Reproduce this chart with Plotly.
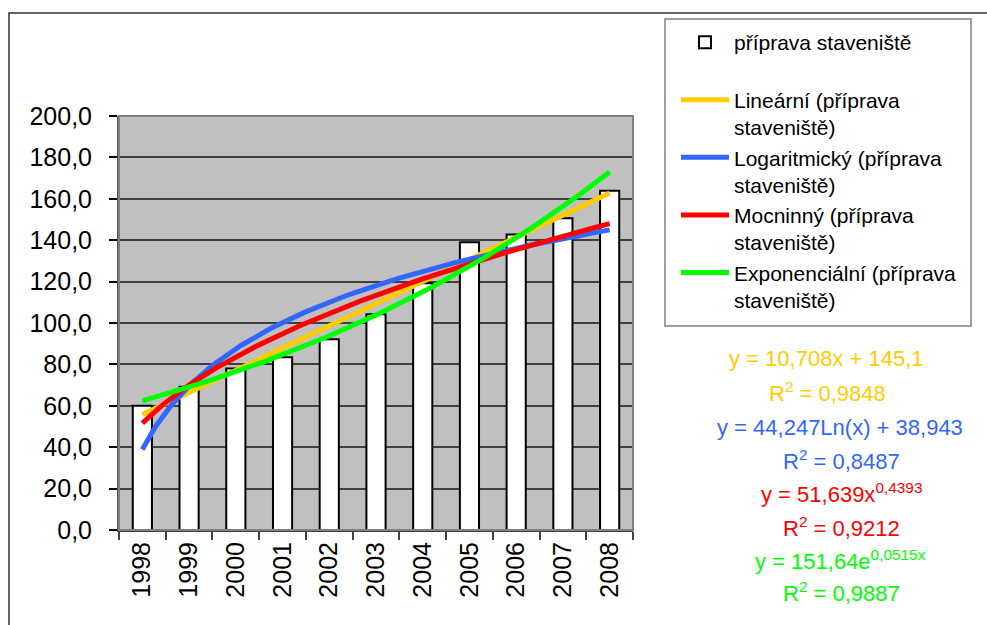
import numpy as np
import plotly.graph_objects as go

# Data: site-preparation index by year
years = ["1998", "1999", "2000", "2001", "2002", "2003", "2004", "2005", "2006", "2007", "2008"]
values = [60.0, 69.2, 78.0, 83.4, 92.1, 104.2, 119.2, 139.0, 142.8, 150.6, 163.9]

series_name = "příprava staveniště"
trend_names = [
    "Lineární (příprava<br>staveniště)",
    "Logaritmický (příprava<br>staveniště)",
    "Mocninný (příprava<br>staveniště)",
    "Exponenciální (příprava<br>staveniště)",
]
trend_colors = ["#FFCC00", "#3366FF", "#FF0000", "#00FF00"]

# Equation labels shown beside the chart
eq_lines = [
    ("y = 10,708x + 145,1", "#FFCC00"),
    ("R<sup>2</sup> = 0,9848", "#FFCC00"),
    ("y = 44,247Ln(x) + 38,943", "#3366FF"),
    ("R<sup>2</sup> = 0,8487", "#3366FF"),
    ("y = 51,639x<sup>0,4393</sup>", "#FF0000"),
    ("R<sup>2</sup> = 0,9212", "#FF0000"),
    ("y = 151,64e<sup>0,0515x</sup>", "#00FF00"),
    ("R<sup>2</sup> = 0,9887", "#00FF00"),
]

FONT = "Liberation Sans, Arial, sans-serif"
W, H = 987, 625
L, R, T, B = 119, 354, 116, 95
PW, PH = W - L - R, H - T - B

x = np.arange(1, len(years) + 1)
y = np.array(values)

# Least-squares trend lines, evaluated on a fine grid between the first and last category
xs = np.linspace(1, len(years), 200)
a_lin, b_lin = np.polyfit(x, y, 1)
a_log, b_log = np.polyfit(np.log(x), y, 1)
a_pow, b_pow = np.polyfit(np.log(x), np.log(y), 1)
a_exp, b_exp = np.polyfit(x, np.log(y), 1)
trend_vals = [
    a_lin * xs + b_lin,
    a_log * np.log(xs) + b_log,
    np.exp(b_pow) * xs ** a_pow,
    np.exp(b_exp) * np.exp(a_exp * xs),
]

fig = go.Figure()
fig.add_trace(go.Bar(
    x=x, y=y, name=series_name + "<br> ",
    marker=dict(color="white", line=dict(color="black", width=2)),
))
for nm, col, tv in zip(trend_names, trend_colors, trend_vals):
    fig.add_trace(go.Scatter(
        x=xs, y=tv, mode="lines", name=nm,
        line=dict(color=col, width=5),
    ))

def px_x(px):
    return (px - L) / PW

def px_y(py):
    return (H - B - py) / PH

eq_pos = [(826, 358), (827, 392), (840, 427), (841, 460),
          (841, 493), (841, 527), (840, 560), (841, 592)]
annotations = []
for (txt, col), (ex, ey) in zip(eq_lines, eq_pos):
    annotations.append(dict(
        x=px_x(ex), y=px_y(ey), xref="paper", yref="paper",
        text=txt, showarrow=False, xanchor="center", yanchor="middle",
        font=dict(family=FONT, size=22, color=col),
    ))

shapes = [
    # outer chart frame
    dict(type="rect", xref="paper", yref="paper",
         x0=px_x(9), x1=px_x(1100), y0=px_y(700), y1=px_y(13),
         line=dict(color="#333333", width=1.5), layer="below"),
    # plot area border
    dict(type="rect", xref="paper", yref="paper", x0=0, x1=1, y0=0, y1=1,
         line=dict(color="#808080", width=2), layer="above"),
    # legend frame
    dict(type="rect", xref="paper", yref="paper",
         x0=px_x(665), x1=px_x(971), y0=px_y(326), y1=px_y(19),
         line=dict(color="#808080", width=1.5)),
]

fig.update_layout(
    width=W, height=H,
    margin=dict(l=L, r=R, t=T, b=B, pad=0),
    paper_bgcolor="white", plot_bgcolor="#C0C0C0",
    separators=",.",
    bargap=0.59,
    font=dict(family=FONT, size=21, color="black"),
    showlegend=True,
    legend=dict(
        x=px_x(676), y=px_y(22), xanchor="left", yanchor="top",
        bgcolor="rgba(0,0,0,0)", borderwidth=0,
        font=dict(family=FONT, size=21, color="black"),
        valign="top", tracegroupgap=0, itemwidth=48,
    ),
    annotations=annotations,
    shapes=shapes,
)
fig.update_xaxes(
    range=[0.5, len(years) + 0.5],
    tickmode="array", tickvals=x, ticktext=years, tickangle=-90,
    ticks="", showgrid=False, zeroline=False,
    tickfont=dict(family=FONT, size=25, color="black"),
    showline=True, linecolor="#404040", linewidth=2,
    minor=dict(tick0=0.5, dtick=1, ticks="outside", ticklen=8,
               tickcolor="#404040", tickwidth=2, showgrid=False),
)
fig.update_yaxes(
    range=[0, 200], tickmode="linear", tick0=0, dtick=20, tickformat=".1f",
    ticks="outside", ticklen=8, tickcolor="black", tickwidth=2,
    showgrid=True, gridcolor="#404040", gridwidth=1.5, zeroline=False,
    tickfont=dict(family=FONT, size=25, color="black"),
    showline=True, linecolor="#505050", linewidth=2,
    ticklabelstandoff=12,
)

fig.write_html("out.html")
